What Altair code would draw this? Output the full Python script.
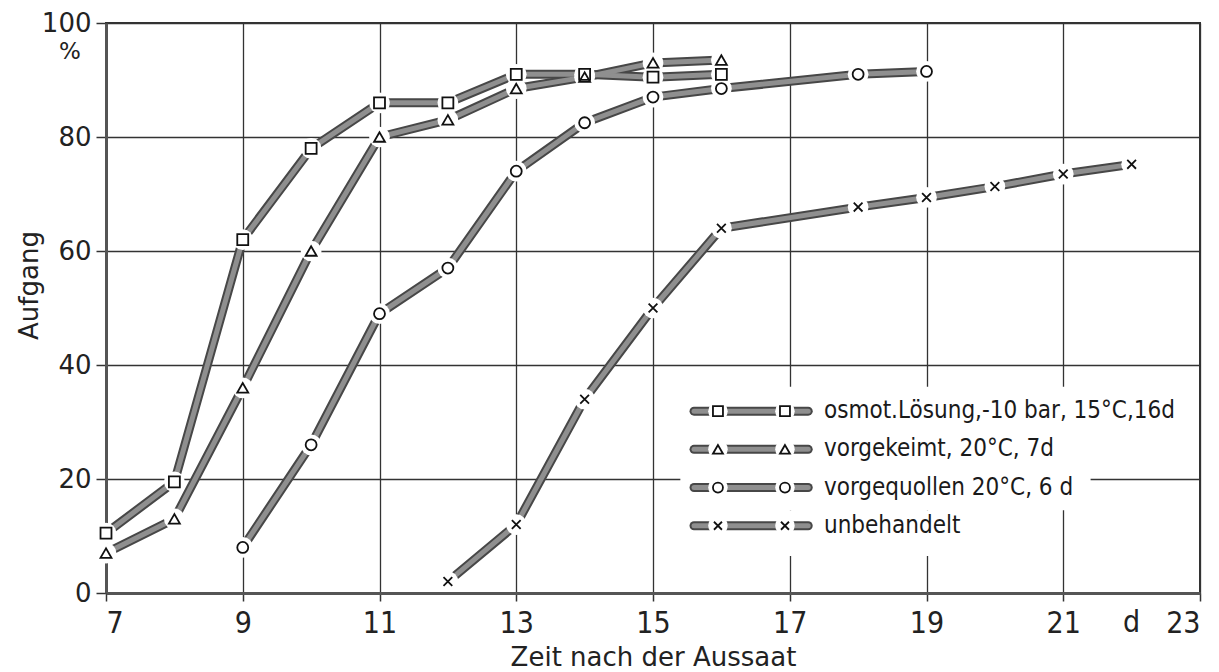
import altair as alt
import pandas as pd

# ---- data ----
series_names = [
    "osmot.Lösung,-10 bar, 15°C,16d",
    "vorgekeimt, 20°C, 7d",
    "vorgequollen 20°C, 6 d",
    "unbehandelt",
]
days_osmot = [7, 8, 9, 10, 11, 12, 13, 14, 15, 16]
val_osmot = [10.5, 19.5, 62, 78, 86, 86, 91, 91, 90.5, 91]
days_vork = [7, 8, 9, 10, 11, 12, 13, 14, 15, 16]
val_vork = [7, 13, 36, 60, 80, 83, 88.5, 90.5, 93, 93.5]
days_vorq = [9, 10, 11, 12, 13, 14, 15, 16, 18, 19]
val_vorq = [8, 26, 49, 57, 74, 82.5, 87, 88.5, 91, 91.5]
days_unb = [12, 13, 14, 15, 16, 18, 19, 20, 21, 22]
val_unb = [2, 12, 34, 50, 64, 67.7, 69.4, 71.3, 73.5, 75.2]

x_ticks = [7, 9, 11, 13, 15, 17, 19, 21, 23]
y_ticks = [0, 20, 40, 60, 80, 100]

# ---- legend layout (positions in data units) ----
leg_row_y = [31.9, 25.2, 18.5, 11.8]
leg_line_x = [15.6, 17.27]
leg_sym_x = [15.95, 16.93]
leg_text_x = 17.5
leg_bg = pd.DataFrame({
    "day": [15.4, 15.4], "day2": [21.4, 20.3],
    "val": [14.5, 6.5], "val2": [36.2, 14.5],
})

rows = []
for name, ds, vs in zip(series_names,
                        [days_osmot, days_vork, days_vorq, days_unb],
                        [val_osmot, val_vork, val_vorq, val_unb]):
    for d, v in zip(ds, vs):
        rows.append({"series": name, "day": d, "val": v})
df = pd.DataFrame(rows)

leg_lines = pd.DataFrame([{"series": n, "day": x, "val": y}
                          for n, y in zip(series_names, leg_row_y) for x in leg_line_x])
leg_syms = pd.DataFrame([{"series": n, "day": x, "val": y}
                         for n, y in zip(series_names, leg_row_y) for x in leg_sym_x])
leg_text = pd.DataFrame([{"series": n, "day": leg_text_x, "val": y}
                         for n, y in zip(series_names, leg_row_y)])

narrow = "Liberation Sans Narrow, DejaVu Sans Condensed, sans-serif"
round_font = "DejaVu Sans, sans-serif"

X = alt.X("day:Q",
          scale=alt.Scale(domain=[7, 23], nice=False, zero=False),
          axis=alt.Axis(values=x_ticks, title="Zeit nach der Aussaat",
                        labelFont=narrow, labelFontSize=30, labelPadding=7,
                        tickSize=8, titleFont=round_font, titleFontSize=26,
                        titleFontWeight="normal", titleBaseline="alphabetic",
                        titleY=72, titleX=547))
Y = alt.Y("val:Q",
          scale=alt.Scale(domain=[0, 100], nice=False),
          axis=alt.Axis(values=y_ticks, title="Aufgang",
                        labelFont=round_font, labelFontSize=26, labelPadding=5,
                        tickSize=10, titleFont=round_font, titleFontSize=26,
                        titleFontWeight="normal", titleX=-64, titleY=262))

x_path = "M-0.8,-0.8L0.8,0.8M0.8,-0.8L-0.8,0.8"
shape_scale = alt.Scale(domain=series_names,
                        range=["square", "triangle-up", "circle", x_path])
S = alt.Shape("series:N", scale=shape_scale, legend=None)

bg = alt.Chart(leg_bg).mark_rect(color="white").encode(
    x=X, x2="day2:Q", y=Y, y2="val2:Q")

def line_layers(data):
    outer = alt.Chart(data).mark_line(color="#474747", strokeWidth=9,
                                      strokeCap="round", strokeJoin="round").encode(
        x=X, y=Y, detail="series:N")
    inner = alt.Chart(data).mark_line(color="#8f8f8f", strokeWidth=5,
                                      strokeCap="round", strokeJoin="round").encode(
        x=X, y=Y, detail="series:N")
    return [outer, inner]

def marker_layers(data, size, halo_size):
    halo = alt.Chart(data).mark_circle(color="#ffffff", opacity=1).encode(
        x=X, y=Y, size=alt.value(halo_size))
    mk = alt.Chart(data).mark_point(filled=False, color="#111", strokeWidth=1.8,
                                    opacity=1).encode(
        x=X, y=Y, shape=S, size=alt.value(size))
    return [halo, mk]

texts = alt.Chart(leg_text).mark_text(align="left", baseline="middle",
                                      font=narrow, fontSize=24, color="#1a1a1a").encode(
    x=X, y=Y, text="series:N")

d_label = alt.Chart(pd.DataFrame({"day": [22], "t": ["d"]})).mark_text(
    baseline="alphabetic", align="center", font=narrow, fontSize=30, color="#222").encode(
    x=X, y=alt.value(609), text="t:N")
pct = alt.Chart(pd.DataFrame({"t": ["%"]})).mark_text(
    baseline="middle", align="center", font=round_font, fontSize=23, color="#222").encode(
    x=alt.value(-36), y=alt.value(29), text="t:N")

layers = [bg] + line_layers(df) + marker_layers(df, 120, 430) \
    + line_layers(leg_lines) + marker_layers(leg_syms, 100, 380) + [texts, d_label, pct]

chart = alt.layer(*layers).properties(
    width=1094, height=570,
    autosize=alt.AutoSizeParams(type="none"),
    padding={"left": 106, "top": 23, "right": 19, "bottom": 79},
    background="white",
).configure_view(stroke="#333", strokeWidth=2).configure_axis(
    gridColor="#333", gridWidth=1.3, gridOpacity=1,
    domainColor="#555", domainWidth=3,
    tickColor="#333", tickWidth=1.5,
    labelColor="#222", titleColor="#222",
)

chart.save("out.html", embed_options={"renderer": "svg", "actions": False})
